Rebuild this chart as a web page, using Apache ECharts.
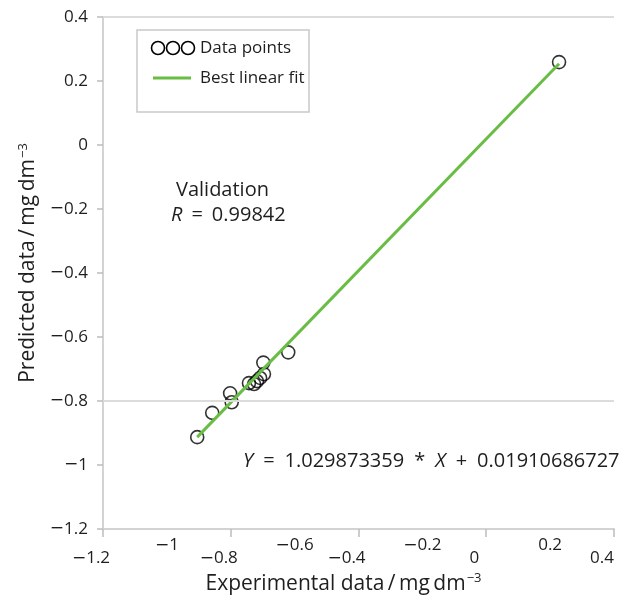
<!DOCTYPE html>
<html>
<head>
<meta charset="utf-8">
<script src="https://cdn.jsdelivr.net/npm/echarts@6/dist/echarts.min.js"></script>
<style>
  html, body { margin: 0; padding: 0; background: #fff; }
  #chart { width: 625px; height: 601px; }
</style>
</head>
<body>
<div id="chart"></div>
<script>
// Experimental vs. predicted concentrations (validation set)
const experimental = [-0.905, -0.858, -0.802, -0.797, -0.743, -0.727, -0.718, -0.708, -0.696, -0.698, -0.620, 0.228];
const predicted    = [-0.913, -0.837, -0.776, -0.804, -0.744, -0.747, -0.738, -0.728, -0.716, -0.680, -0.648, 0.259];

// Fitted regression line Y = slope * X + intercept
const fitSlope = 1.029873359;
const fitIntercept = 0.01910686727;
const fitRange = [-0.905, 0.228];

// Axis tick labels (every 0.2 from -1.2 to 0.4)
const xTickLabels = ['−1.2', '−1', '−0.8', '−0.6', '−0.4', '−0.2', '0', '0.2', '0.4'];
const yTickLabels = ['−1.2', '−1', '−0.8', '−0.6', '−0.4', '−0.2', '0', '0.2', '0.4'];

const FONT = 'Open Sans';
const INK = '#1e1e1e';
const GRAY = '#d3d3d3';
const GREEN = '#69bd45';

const chart = echarts.init(document.getElementById('chart'), null, { renderer: 'canvas' });

const scatterData = experimental.map((x, i) => [x, predicted[i]]);
const fitData = fitRange.map(x => [x, fitSlope * x + fitIntercept]);

// minus sign drawn with a wider glyph than the text face
const withMinus = s => s.replace('−', '{m|−}');
const minusRich = { m: { fontFamily: 'DejaVu Sans', fontSize: 17, color: INK } };

const unitRich = size => ({
  t: { fontFamily: FONT, fontSize: size, color: INK },
  sup: { fontFamily: FONT, fontSize: 13, color: INK, padding: [0, 0, 11, 1] }
});

const option = {
  animation: false,
  backgroundColor: '#fff',
  grid: { left: 103, right: 11, top: 17, bottom: 72 },
  xAxis: [
    {
      // upper row of labels (-1, -0.6, -0.2, 0.2)
      type: 'value', min: -1.2, max: 0.4, interval: 0.2,
      axisLine: { show: false, onZero: false }, axisTick: { show: false }, splitLine: { show: false },
      axisLabel: {
        margin: 8, fontFamily: FONT, fontSize: 17, color: INK, rich: minusRich,
        formatter: (v, i) => (i % 2 === 1 ? withMinus(xTickLabels[i]) : '')
      }
    },
    {
      // axis line, ticks and lower row of labels (-1.2, -0.8, -0.4, 0, 0.4)
      type: 'value', min: -1.2, max: 0.4, interval: 0.4, position: 'bottom',
      name: '{t|Experimental data\u2009/\u2009mg\u2009dm}{sup|−3}',
      nameLocation: 'middle', nameGap: 34,
      nameTextStyle: { rich: unitRich(21), padding: [0, 30, 0, 0] },
      axisLine: { show: true, onZero: false, lineStyle: { color: GRAY, width: 2 } },
      axisTick: { show: true, inside: false, length: 8, lineStyle: { color: '#bdbdbd', width: 1.5 } },
      splitLine: { show: false },
      axisLabel: {
        margin: 21, padding: [0, 24, 0, 0], fontFamily: FONT, fontSize: 17, color: INK, rich: minusRich,
        formatter: (v, i) => withMinus(xTickLabels[i * 2])
      }
    }
  ],
  yAxis: {
    type: 'value', min: -1.2, max: 0.4, interval: 0.2,
    name: '{t|Predicted data\u2009/\u2009mg\u2009dm}{sup|−3}',
    nameLocation: 'middle', nameGap: 62, nameRotate: 90,
    nameTextStyle: { rich: unitRich(21), padding: [0, 0, 0, 20] },
    axisLine: { show: true, onZero: false, lineStyle: { color: GRAY, width: 2 } },
    axisTick: { show: true, length: 6, lineStyle: { color: '#bdbdbd', width: 1.5 } },
    splitLine: { show: false },
    axisLabel: {
      margin: 15, fontFamily: FONT, fontSize: 17, color: INK, rich: minusRich,
      formatter: (v, i) => withMinus(yTickLabels[i])
    }
  },
  series: [
    {
      type: 'scatter', xAxisIndex: 1,
      data: scatterData,
      symbol: 'circle', symbolSize: 13,
      itemStyle: { color: 'rgba(0,0,0,0)', borderColor: '#000', borderWidth: 1.6 },
      z: 3,
      markLine: {
        silent: true, symbol: 'none', label: { show: false },
        lineStyle: { color: '#dcdcdc', width: 2, type: 'solid' },
        data: [{ yAxis: -0.8 }, { yAxis: 0.4 }]
      }
    },
    {
      type: 'line', xAxisIndex: 1,
      data: fitData,
      symbol: 'none',
      lineStyle: { color: GREEN, width: 3 },
      z: 4
    }
  ],
  graphic: [
    // legend box
    { type: 'rect', shape: { x: 137, y: 30, width: 172, height: 82 },
      style: { fill: '#fff', stroke: '#c9c9c9', lineWidth: 1.5 }, z: 10 },
    { type: 'circle', shape: { cx: 158, cy: 48, r: 6.5 }, style: { fill: 'none', stroke: '#000', lineWidth: 1.6 }, z: 11 },
    { type: 'circle', shape: { cx: 173, cy: 48, r: 6.5 }, style: { fill: 'none', stroke: '#000', lineWidth: 1.6 }, z: 11 },
    { type: 'circle', shape: { cx: 188, cy: 48, r: 6.5 }, style: { fill: 'none', stroke: '#000', lineWidth: 1.6 }, z: 11 },
    { type: 'text', x: 200, y: 48, z: 11,
      style: { text: 'Data points', fontFamily: FONT, fontSize: 17, fill: INK, verticalAlign: 'middle' } },
    { type: 'line', shape: { x1: 153, y1: 78, x2: 191, y2: 78 }, style: { stroke: GREEN, lineWidth: 3 }, z: 11 },
    { type: 'text', x: 200, y: 78, z: 11,
      style: { text: 'Best linear fit', fontFamily: FONT, fontSize: 17, fill: INK, verticalAlign: 'middle' } },
    // annotations
    { type: 'text', x: 176, y: 190, z: 11,
      style: { text: 'Validation', fontFamily: FONT, fontSize: 20, fill: INK, verticalAlign: 'middle' } },
    { type: 'text', x: 171, y: 215, z: 11,
      style: {
        text: '{i|R}{op|=}0.99842', verticalAlign: 'middle',
        rich: {
          i: { fontFamily: FONT, fontSize: 20, fontStyle: 'italic', fill: INK },
          op: { fontFamily: FONT, fontSize: 20, fill: INK, padding: [0, 9, 0, 9] }
        },
        fontFamily: FONT, fontSize: 20, fill: INK
      } },
    { type: 'text', x: 243, y: 461, z: 11,
      style: {
        text: '{i|Y}{op|=}1.029873359{op|*}{i|X}{op|+}0.01910686727', verticalAlign: 'middle',
        rich: {
          i: { fontFamily: FONT, fontSize: 20, fontStyle: 'italic', fill: INK },
          op: { fontFamily: FONT, fontSize: 20, fill: INK, padding: [0, 10, 0, 10] }
        },
        fontFamily: FONT, fontSize: 20, fill: INK
      } }
  ]
};

chart.setOption(option);
</script>
</body>
</html>
